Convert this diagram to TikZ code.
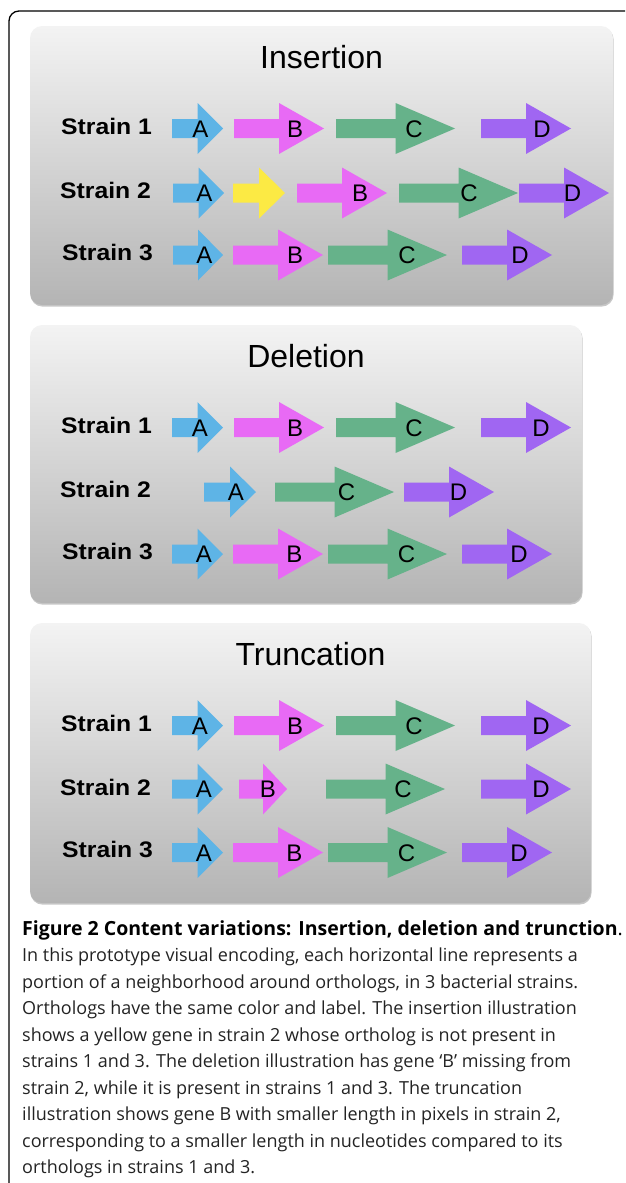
\documentclass[tikz,border=0pt]{standalone}
\usepackage{fontspec}
\setmainfont{Liberation Sans}
\newfontfamily\capfont{Open Sans}
\usetikzlibrary{calc}

\definecolor{geneA}{RGB}{94,180,230}
\definecolor{geneB}{RGB}{232,106,245}
\definecolor{geneC}{RGB}{102,178,138}
\definecolor{geneD}{RGB}{160,102,242}
\definecolor{geneY}{RGB}{252,234,68}
\definecolor{panelTop}{RGB}{243,243,243}
\definecolor{panelBot}{RGB}{180,180,180}
\definecolor{captext}{RGB}{35,35,35}

% gene arrow: colour, left x, right x, centre y (head starts half way)
\newcommand\gene[4]{%
  \pgfmathsetmacro\gmid{(#2+#3)/2}%
  \fill[#1] (#2,#4-9.5) -- (\gmid,#4-9.5) -- (\gmid,#4-25.5) -- (#3,#4)
    -- (\gmid,#4+25.5) -- (\gmid,#4+9.5) -- (#2,#4+9.5) -- cycle;}

% grey rounded panel with a soft lower edge: top y, right x, bottom y
\newcommand\panelbox[3]{%
  \fill[black!22, rounded corners=12] (30.5,#1+1.5) rectangle (#2+0.6,#3+1.6);
  \shade[top color=panelTop, bottom color=panelBot, rounded corners=12]
    (30,#1) rectangle (#2,#3);}

\tikzset{
  paneltitle/.style={anchor=base, inner sep=0pt, font=\fontsize{32}{32}\selectfont},
  strainlabel/.style={anchor=base west, inner sep=0pt,
    font=\fontsize{22.5}{22.5}\selectfont\bfseries, xscale=1.1},
  genelabel/.style={anchor=base, inner sep=0pt, font=\fontsize{24}{24}\selectfont},
  capline/.style={anchor=base west, inner sep=0pt, text=captext,
    font=\capfont\fontsize{18}{26}\selectfont},
  caphead/.style={capline, text=black, font=\capfont\fontsize{19.5}{26}\selectfont},
}

\begin{document}
\begin{tikzpicture}[x=1pt,y=-1pt]
\useasboundingbox (0,0) rectangle (625,1183);
\clip (0,0) rectangle (625,1183);

% outer frame, open to the right and bottom
\draw[line width=1.3pt, rounded corners=10] (9,1200) -- (9,11) -- (640,11);

%----------------------------------------------------------- Insertion
\panelbox{26}{613}{305}
\node[paneltitle] (tIns) at (321.5,68) {Insertion};
\node[strainlabel] (i1) at (61,134) {Strain 1};
\node[strainlabel] (i2) at (60,198.5) {Strain 2};
\node[strainlabel] (i3) at (62,260.5) {Strain 3};
% strain 1
\gene{geneA}{172}{223}{128.5}
\gene{geneB}{234}{324}{128.5}
\gene{geneC}{336}{455}{128.5}
\gene{geneD}{481}{571}{128.5}
\node[genelabel] (i1a) at (200.5,137) {A};
\node[genelabel] (i1b) at (295,137) {B};
\node[genelabel] (i1c) at (414,137) {C};
\node[genelabel] (i1d) at (542,137) {D};
% strain 2 (extra yellow gene)
\gene{geneA}{173}{224}{193}
\gene{geneY}{233}{285}{193}
\gene{geneB}{297}{387}{193}
\gene{geneC}{399}{518}{193}
\gene{geneD}{519}{609}{193}
\node[genelabel] (i2a) at (204.5,201.5) {A};
\node[genelabel] (i2b) at (360,201.5) {B};
\node[genelabel] (i2c) at (469,201.5) {C};
\node[genelabel] (i2d) at (572.5,201.5) {D};
% strain 3
\gene{geneA}{173}{223}{255}
\gene{geneB}{233}{323}{255}
\gene{geneC}{328}{447}{255}
\gene{geneD}{462}{552}{255}
\node[genelabel] (i3a) at (204.5,263.5) {A};
\node[genelabel] (i3b) at (295,263.5) {B};
\node[genelabel] (i3c) at (407,263.5) {C};
\node[genelabel] (i3d) at (520,263.5) {D};

%----------------------------------------------------------- Deletion
\panelbox{325}{582}{603}
\node[paneltitle] (tDel) at (306,367) {Deletion};
\node[strainlabel] (d1) at (61,433) {Strain 1};
\node[strainlabel] (d2) at (60,497.5) {Strain 2};
\node[strainlabel] (d3) at (62,559.5) {Strain 3};
% strain 1
\gene{geneA}{172}{223}{427.5}
\gene{geneB}{234}{324}{427.5}
\gene{geneC}{336}{455}{427.5}
\gene{geneD}{481}{571}{427.5}
\node[genelabel] (d1a) at (200,436) {A};
\node[genelabel] (d1b) at (295,436) {B};
\node[genelabel] (d1c) at (414,436) {C};
\node[genelabel] (d1d) at (541,436) {D};
% strain 2 (gene B missing)
\gene{geneA}{204}{256}{492}
\gene{geneC}{275}{394}{492}
\gene{geneD}{404}{494}{492}
\node[genelabel] (d2a) at (236,500.5) {A};
\node[genelabel] (d2c) at (346.5,500.5) {C};
\node[genelabel] (d2d) at (458.5,500.5) {D};
% strain 3
\gene{geneA}{172}{223}{554}
\gene{geneB}{233}{323}{554}
\gene{geneC}{328}{447}{554}
\gene{geneD}{462}{552}{554}
\node[genelabel] (d3a) at (204,562.5) {A};
\node[genelabel] (d3b) at (294.5,562.5) {B};
\node[genelabel] (d3c) at (406.5,562.5) {C};
\node[genelabel] (d3d) at (519,562.5) {D};

%----------------------------------------------------------- Truncation
\panelbox{623}{591}{903}
\node[paneltitle] (tTru) at (310.5,665) {Truncation};
\node[strainlabel] (r1) at (61,731) {Strain 1};
\node[strainlabel] (r2) at (60,795.5) {Strain 2};
\node[strainlabel] (r3) at (62,857.5) {Strain 3};
% strain 1
\gene{geneA}{172}{223}{725.5}
\gene{geneB}{234}{324}{725.5}
\gene{geneC}{336}{455}{725.5}
\gene{geneD}{481}{571}{725.5}
\node[genelabel] (r1a) at (200,734) {A};
\node[genelabel] (r1b) at (295,734) {B};
\node[genelabel] (r1c) at (414,734) {C};
\node[genelabel] (r1d) at (541,734) {D};
% strain 2 (gene B shortened)
\gene{geneA}{172}{223}{789}
\gene{geneB}{239}{287}{789}
\gene{geneC}{326}{445}{789}
\gene{geneD}{481}{571}{789}
\node[genelabel] (r2a) at (204,797.5) {A};
\node[genelabel] (r2b) at (268,797.5) {B};
\node[genelabel] (r2c) at (403,797.5) {C};
\node[genelabel] (r2d) at (541,797.5) {D};
% strain 3
\gene{geneA}{172}{223}{852.5}
\gene{geneB}{233}{323}{852.5}
\gene{geneC}{328}{447}{852.5}
\gene{geneD}{462}{552}{852.5}
\node[genelabel] (r3a) at (204,861) {A};
\node[genelabel] (r3b) at (294.5,861) {B};
\node[genelabel] (r3c) at (406.5,861) {C};
\node[genelabel] (r3d) at (519,861) {D};

%----------------------------------------------------------- caption
\node[caphead] (c1)  at (22,935)   {\textbf{Figure 2 Content variations: Insertion, deletion and trunction}.};
\node[capline] (c2)  at (22,961.5) {In this prototype visual encoding, each horizontal line represents a};
\node[capline] (c3)  at (22,988)   {portion of a neighborhood around orthologs, in 3 bacterial strains.};
\node[capline] (c4)  at (22,1014.5){Orthologs have the same color and label. The insertion illustration};
\node[capline] (c5)  at (22,1041)  {shows a yellow gene in strain 2 whose ortholog is not present in};
\node[capline] (c6)  at (22,1067.5){strains 1 and 3. The deletion illustration has gene ‘B’ missing from};
\node[capline] (c7)  at (22,1094)  {strain 2, while it is present in strains 1 and 3. The truncation};
\node[capline] (c8)  at (22,1120.5){illustration shows gene B with smaller length in pixels in strain 2,};
\node[capline] (c9)  at (22,1147)  {corresponding to a smaller length in nucleotides compared to its};
\node[capline] (c10) at (22,1173.5){orthologs in strains 1 and 3.};
\end{tikzpicture}
\end{document}
